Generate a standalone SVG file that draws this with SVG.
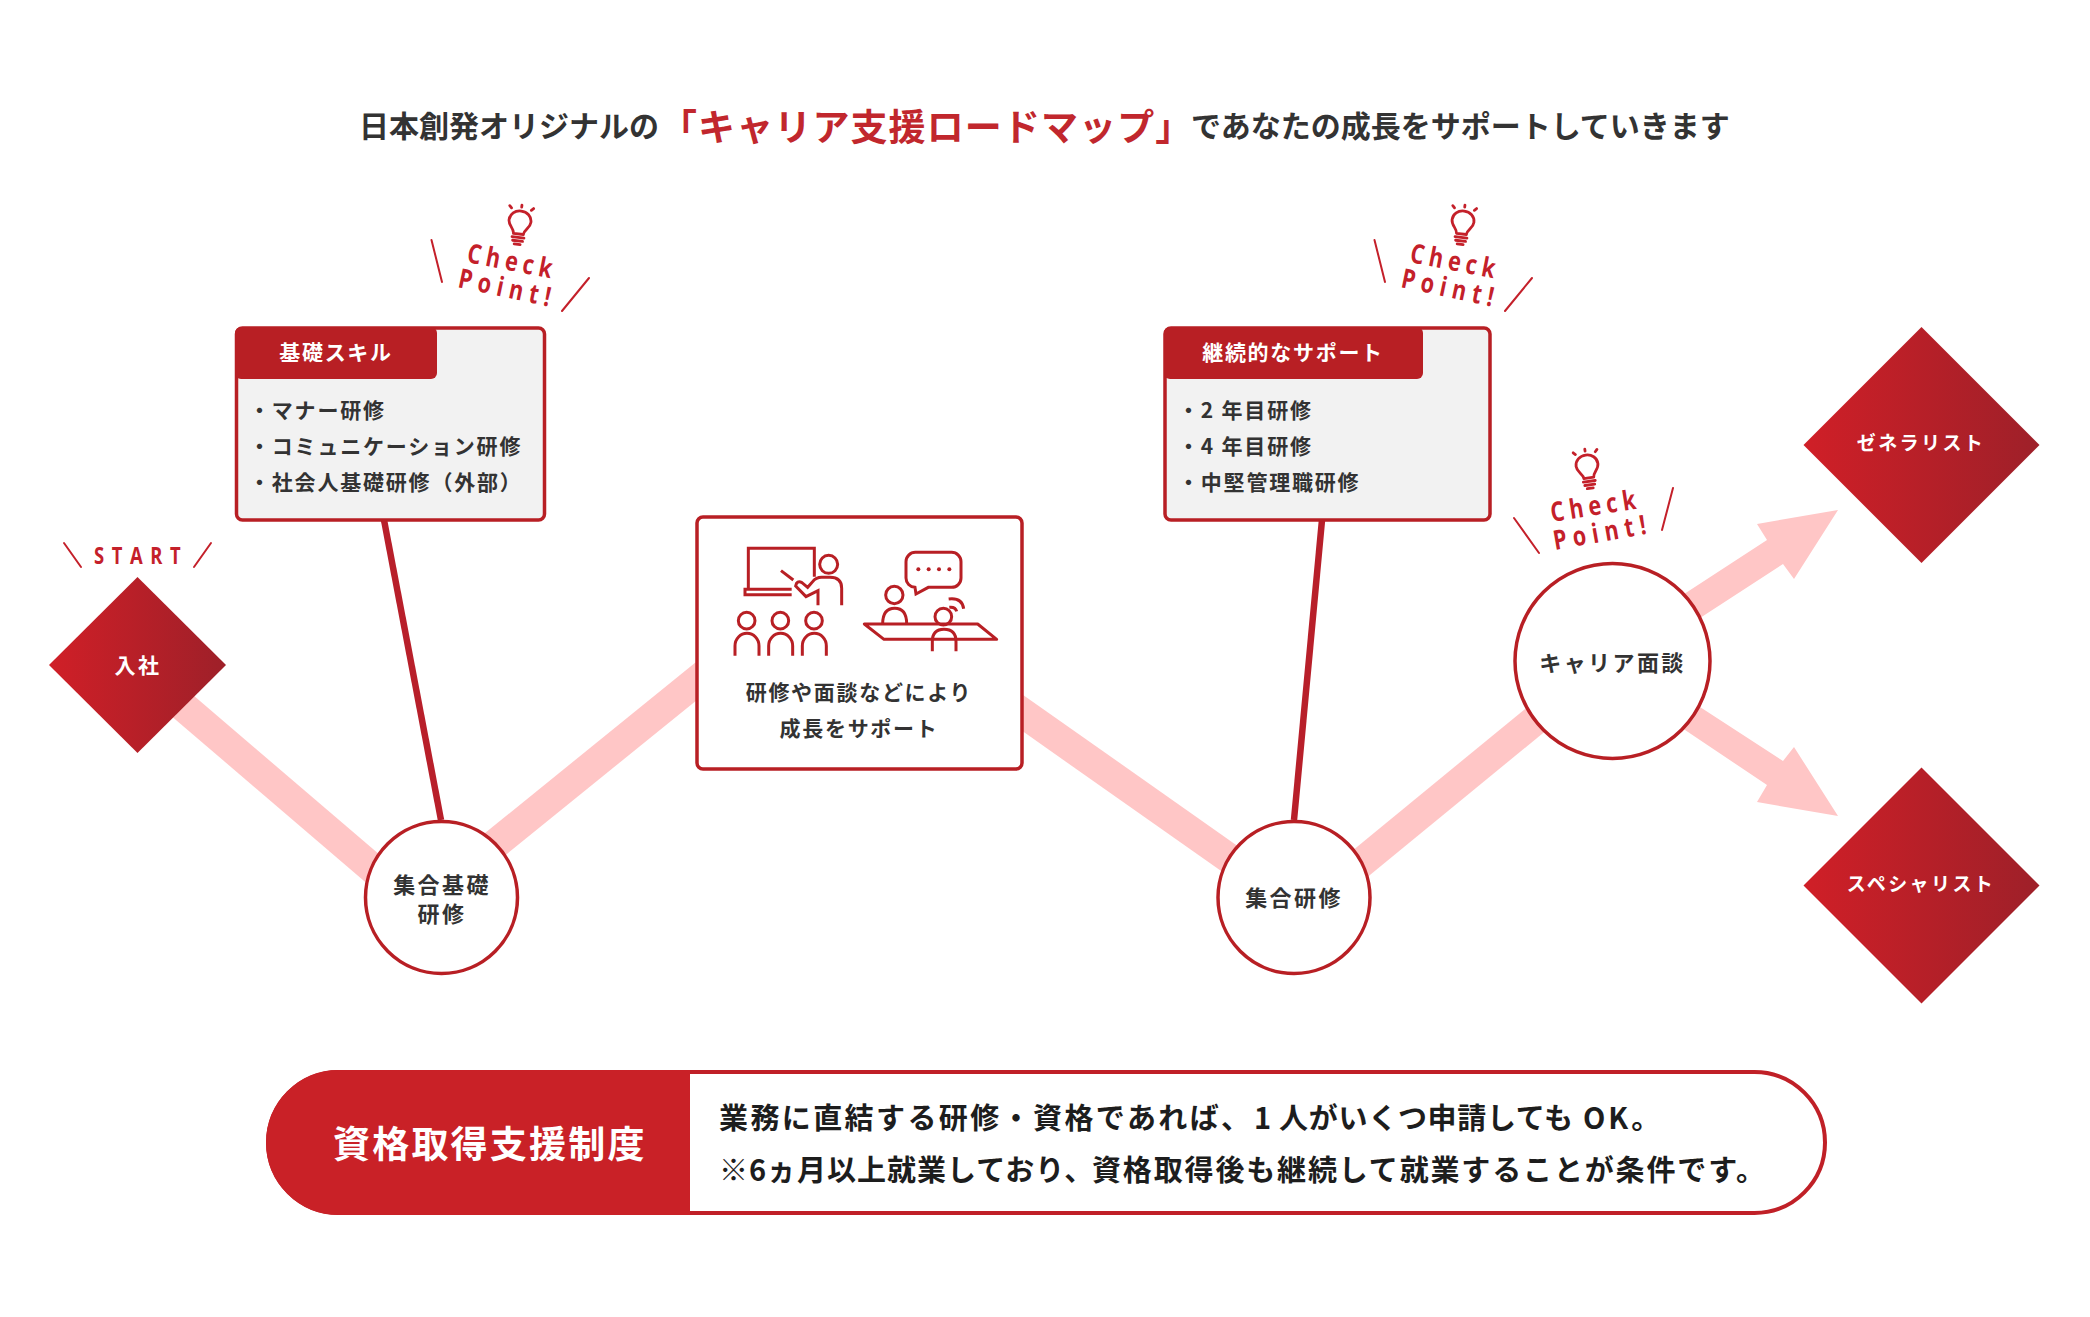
<svg xmlns="http://www.w3.org/2000/svg" width="2090" height="1317" viewBox="0 0 2090 1317">
<defs>
<linearGradient id="dg" x1="0" y1="0" x2="1" y2="0"><stop offset="0" stop-color="#d01f27"/><stop offset="1" stop-color="#9e2029"/></linearGradient>
<g id="bulb" fill="none" stroke="#c4202a" stroke-width="2.8" stroke-linecap="round" stroke-linejoin="round">
<path d="M-5,13 C-5,8 -11,6 -11,0 C-11,-6 -6,-10 0,-10 C6,-10 11,-6 11,0 C11,6 5,8 5,13 Z"/>
<path d="M-6,16.500 H6 M-5,20 H5 M-3,23.500 H3"/>
<path d="M-12,-14 L-10,-12 M0,-16 V-14 M12,-14 L10,-12"/>
</g>
</defs>
<style>
text{font-family:"Noto Sans CJK JP","Noto Sans",sans-serif;font-weight:700}
.t{font-size:30px;fill:#333}
.tr{font-size:37px;letter-spacing:1.1px;fill:#c1272d}
.n{font-size:22px;letter-spacing:2.4px;fill:#333;text-anchor:middle}
.l{font-size:21px;letter-spacing:1.8px;fill:#333}
.h{font-size:21px;letter-spacing:1.7px;fill:#fff;text-anchor:middle}
.d{font-size:19px;letter-spacing:2.4px;fill:#fff;text-anchor:middle}
.c{font-family:"Open Sans",sans-serif;font-size:27px;fill:#c4202a;letter-spacing:6.5px}
.c2{letter-spacing:7.6px}
.s{fill:none;stroke:#c4202a;stroke-width:2;stroke-linecap:round}
.box{fill:#f2f2f2;stroke:#b81f24;stroke-width:3.5}
.nc{fill:#fff;stroke:#b81f24;stroke-width:3.5}
.p{fill:none;stroke:#ffc6c6;stroke-width:30}
.rl{fill:none;stroke:#b81f2a;stroke-width:6.5}
.i{fill:none;stroke:#b81f24;stroke-width:9}
.b{font-size:29px;fill:#1d1d1d}
</style>
<g id="title">
<text class="t" x="359" y="137">日本創発オリジナルの</text>
<text class="tr" x="660" y="141">「キャリア支援ロードマップ」</text>
<text class="t" x="1191" y="137">であなたの成長をサポートしていきます</text>
</g>
<g id="connectors">
<path class="p" d="M150,678 L441,927"/>
<path class="p" d="M720,662 L441,888"/>
<path class="p" d="M1000,697 L1294,904"/>
<path class="p" d="M1294,918 L1612,657"/>
<path fill="#ffc6c6" d="M1612,641 L1767,540 L1757,524 L1838,510 L1794,579 L1783,564 L1640,657 Z"/>
<path fill="#ffc6c6" d="M1612,681 L1767,785 L1757,802 L1838,816 L1794,747 L1783,761 L1640,668 Z"/>
<path class="rl" d="M384,520 L441,820"/>
<path class="rl" d="M1322,520 L1294,820"/>
</g>
<g id="start">
<path fill="url(#dg)" d="M49,665 L137.500,577 L226,665 L137.500,753 Z"/>
<text class="h" x="138" y="673" style="letter-spacing:2.6px">入社</text>
<text x="0" y="0" transform="translate(94,564) scale(.8,1)" style="font-family:'Open Sans',sans-serif;font-size:23px;fill:#c4202a;letter-spacing:9.5px">START</text>
<path class="s" d="M64,543 L81,567 M211,543 L194,567"/>
</g>
<g id="c1">
<circle class="nc" cx="441.5" cy="897.5" r="76"/>
<text class="n" x="442" y="893">集合基礎</text>
<text class="n" x="442" y="922">研修</text>
</g>
<g id="box1">
<rect class="box" x="236.500" y="328" width="308" height="192" rx="6"/>
<path fill="#b81f24" d="M241,327 H431 a6,6 0 0 1 6,6 V373 a6,6 0 0 1 -6,6 H241 a6,6 0 0 1 -6,-6 V333 a6,6 0 0 1 6,-6 Z"/>
<text class="h" x="336" y="360">基礎スキル</text>
<text class="l" x="249" y="418">・マナー研修</text>
<text class="l" x="249" y="454">・コミュニケーション研修</text>
<text class="l" x="249" y="490">・社会人基礎研修（外部）</text>
</g>
<g id="check1">
<use href="#bulb" transform="translate(520,221) rotate(7)"/>
<text class="c" transform="translate(466,262) rotate(11) scale(.8,1)">Check</text>
<text class="c c2" transform="translate(457,287) rotate(12) scale(.8,1)">Point!</text>
<path class="s" d="M431.5,240 L442,282 M589,278 L562,311"/>
</g>
<g id="box2">
<rect class="nc" x="697" y="517" width="325" height="252" rx="6"/>
<g transform="translate(680,500) scale(.33333)">
<path class="i" d="M403,230 V145 H205 V268 H335 M335,284 H195 V268 H335 M303,212 L340,240"/>
<circle class="i" cx="446" cy="193" r="27"/>
<path class="i" d="M485,316 V265 Q485,232 450,232 H425 Q408,232 398,245 L383,262 L366,248 Q350,240 347,258 L378,290 L414,272 V316"/>
<circle class="i" cx="200" cy="362" r="25"/><circle class="i" cx="301" cy="362" r="25"/><circle class="i" cx="402" cy="362" r="25"/>
<path class="i" d="M165,467 V438 a36,38 0 0 1 72,0 V467 M266,467 V438 a36,38 0 0 1 72,0 V467 M367,467 V438 a36,38 0 0 1 72,0 V467"/>
<path class="i" d="M706,157 H815 a28,28 0 0 1 28,28 V234 a28,28 0 0 1 -28,28 H745 L708,282 L705,262 a28,28 0 0 1 -27,-28 V185 a28,28 0 0 1 28,-28 Z"/>
<g fill="#b81f24"><circle cx="715" cy="208" r="6"/><circle cx="746" cy="208" r="6"/><circle cx="777" cy="208" r="6"/><circle cx="808" cy="208" r="6"/></g>
<circle class="i" cx="643" cy="285" r="26"/>
<path class="i" d="M608,372 Q608,325 644,325 Q680,325 680,372"/>
<path class="i" stroke-linejoin="round" d="M553,372 H893 L950,418 H612 Z"/>
<circle class="i" cx="790" cy="350" r="25"/>
<path class="i" d="M757,454 V425 Q757,388 792,388 Q828,388 828,425 V454"/>
<path class="i" d="M808,322 Q826,320 830,334 M806,297 Q846,292 851,326"/>
</g>
<text class="n" x="859" y="700" style="font-size:21px;letter-spacing:1.7px">研修や面談などにより</text>
<text class="n" x="859" y="736" style="font-size:21px;letter-spacing:1.7px">成長をサポート</text>
</g>
<g id="c2">
<circle class="nc" cx="1294" cy="897.5" r="76"/>
<text class="n" x="1294" y="906">集合研修</text>
</g>
<g id="box3">
<rect class="box" x="1165" y="328" width="325" height="192" rx="6"/>
<path fill="#b81f24" d="M1170,327 H1417 a6,6 0 0 1 6,6 V373 a6,6 0 0 1 -6,6 H1170 a6,6 0 0 1 -6,-6 V333 a6,6 0 0 1 6,-6 Z"/>
<text class="h" x="1293" y="360">継続的なサポート</text>
<text class="l" x="1178" y="418">・2 年目研修</text>
<text class="l" x="1178" y="454">・4 年目研修</text>
<text class="l" x="1178" y="490">・中堅管理職研修</text>
</g>
<g id="check2">
<use href="#bulb" transform="translate(1463,221) rotate(7)"/>
<text class="c" transform="translate(1409,262) rotate(11) scale(.8,1)">Check</text>
<text class="c c2" transform="translate(1400,287) rotate(12) scale(.8,1)">Point!</text>
<path class="s" d="M1374.5,240 L1385,282 M1532,278 L1505,311"/>
</g>
<g id="c3">
<circle class="nc" cx="1612.5" cy="661" r="97.500"/>
<text class="n" x="1612.5" y="671">キャリア面談</text>
</g>
<g id="check3">
<use href="#bulb" transform="translate(1587,465) rotate(-8)"/>
<text class="c" transform="translate(1552,522) rotate(-9) scale(.8,1)">Check</text>
<text class="c c2" transform="translate(1555,550) rotate(-10) scale(.8,1)">Point!</text>
<path class="s" d="M1514,518 L1539,553 M1673,488 L1662,530"/>
</g>
<g id="generalist">
<path fill="url(#dg)" d="M1803.500,445 L1921.500,327 L2039.500,445 L1921.500,563 Z"/>
<text class="d" x="1921" y="450">ゼネラリスト</text>
</g>
<g id="specialist">
<path fill="url(#dg)" d="M1803.500,885.500 L1921.500,767.500 L2039.500,885.500 L1921.500,1003.500 Z"/>
<text class="d" x="1921" y="891">スペシャリスト</text>
</g>
<g id="support">
<rect x="268" y="1072" width="1557" height="141" rx="70.500" fill="#fff" stroke="#c02027" stroke-width="4"/>
<path fill="#c92127" d="M690,1070 H338.500 A72.500,72.500 0 0 0 338.500,1215 H690 Z"/>
<text x="333" y="1158" style="font-size:37px;letter-spacing:2.2px;fill:#fff">資格取得支援制度</text>
<text class="b" y="1129"><tspan x="719" style="letter-spacing:2.4px">業務に直結する研修・資格であれば、</tspan><tspan x="1254" style="letter-spacing:.7px">1 人がいくつ申請しても</tspan><tspan x="1583" style="letter-spacing:3px">OK。</tspan></text>
<text class="b" y="1181"><tspan x="719" style="letter-spacing:1px">※6ヵ月以上就業しており、</tspan><tspan x="1092" style="letter-spacing:1.85px">資格取得後も継続して就業することが条件です。</tspan></text>
</g>
</svg>
